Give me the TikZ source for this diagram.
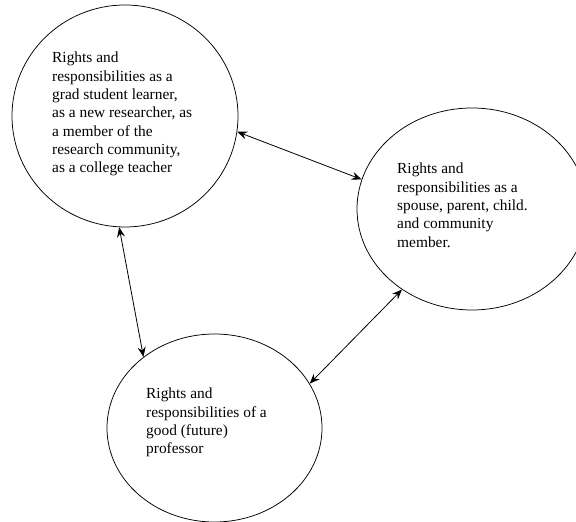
\documentclass[tikz,border=0pt]{standalone}
\usepackage{fontspec}
\setmainfont{Liberation Serif}
\usepackage{tikz}
\usetikzlibrary{shapes.geometric,arrows.meta}

\begin{document}
\begin{tikzpicture}[x=1pt, y=1pt, 
		main/.style = {draw, ellipse, inner sep=0pt, line width=0.75pt},
		txt/.style = {anchor=north west, inner sep=0pt, align=left, font=\fontsize{15.4}{18.3}\selectfont},
		link/.style = {{Stealth[length=10pt,width=8pt,inset=3.5pt]}-{Stealth[length=10pt,width=8pt,inset=3.5pt]}, line width=0.8pt}] 
		\useasboundingbox (0,0) rectangle (576,522);
		
		\node[main, minimum width=226, minimum height=222] (grad) at (125,406) {};
		\node[main, minimum width=230, minimum height=202] (family) at (472,313) {};
		\node[main, minimum width=215, minimum height=188] (prof) at (214.5,94) {};
		
		\node[txt] (gradtxt) at (52,470) {Rights and\\responsibilities as a\\grad student learner,\\as a new researcher, as\\a member of the\\research community,\\as a college teacher};
		\node[txt] (familytxt) at (397,359) {Rights and\\responsibilities as a\\spouse, parent, child.\\and community\\member.};
		\node[txt] (proftxt) at (146,134) {Rights and\\responsibilities of a\\good (future)\\professor};
		
		\draw[link] (grad.-8) -- (family.165);
		\draw[link] (grad.267) -- (prof.135);
		\draw[link] (family.229) -- (prof.25);
	\end{tikzpicture}
\end{document}
